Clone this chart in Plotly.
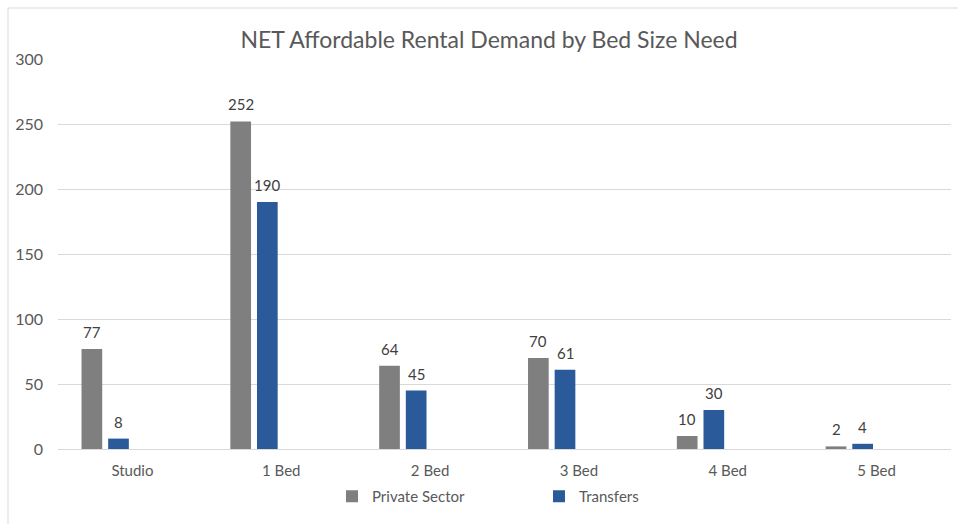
import plotly.graph_objects as go

categories = ["Studio", "1 Bed", "2 Bed", "3 Bed", "4 Bed", "5 Bed"]
private_sector = [77, 252, 64, 70, 10, 2]
transfers = [8, 190, 45, 61, 30, 4]
y_ticks = [0, 50, 100, 150, 200, 250, 300]

FONT = "Lato"
W, H = 958, 524
L, R, T, B = 58, 7, 59, 75
pw = W - L - R
ph = H - T - B

BAR_W = 0.139
OFFSETS = {"Private Sector": -0.342, "Transfers": -0.163}
COLORS = {"Private Sector": "#7F7F7F", "Transfers": "#2A5A9A"}
series = {"Private Sector": private_sector, "Transfers": transfers}

fig = go.Figure()
annotations = []
for name, vals in series.items():
    fig.add_trace(go.Bar(
        x=categories, y=vals, name=name,
        marker=dict(color=COLORS[name], line=dict(width=0)),
        width=BAR_W, offset=OFFSETS[name],
    ))
    for i, v in enumerate(vals):
        annotations.append(dict(
            x=i + OFFSETS[name] + BAR_W / 2, y=v, xref="x", yref="y",
            text=str(v), showarrow=False, yanchor="bottom", xanchor="center",
            yshift=6, font=dict(family=FONT, size=15, color="#404040"),
        ))

def px_x(p):
    return (p - L) / pw

def px_y(p):
    return 1 - (p - T) / ph

fig.update_layout(
    width=W, height=H,
    margin=dict(l=L, r=R, t=T, b=B),
    plot_bgcolor="white", paper_bgcolor="white",
    barmode="overlay",
    title=dict(text="NET Affordable Rental Demand by Bed Size Need",
               x=489 / W, xanchor="center", xref="container",
               y=1 - 40 / H, yanchor="middle", yref="container",
               font=dict(family=FONT, size=23, color="#595959")),
    xaxis=dict(showgrid=False, zeroline=False, showline=False, ticks="",
               tickfont=dict(family=FONT, size=15, color="#595959"),
               ticklabelstandoff=11, range=[-0.5, 5.5]),
    yaxis=dict(range=[0, 300], tickvals=y_ticks, showgrid=True,
               gridcolor="#D9D9D9", gridwidth=1, zeroline=True,
               zerolinecolor="#D9D9D9", zerolinewidth=1, showline=False,
               tickfont=dict(family=FONT, size=16, color="#595959"),
               ticklabelstandoff=14),
    legend=dict(orientation="h", x=px_x(332), xanchor="left",
                y=px_y(480), yanchor="top",
                font=dict(family=FONT, size=15, color="#595959"),
                entrywidth=162, itemwidth=30, traceorder="normal"),
    annotations=annotations,
    shapes=[
        dict(type="line", xref="paper", yref="paper",
             x0=px_x(8), x1=px_x(8), y0=px_y(8), y1=px_y(H + 5),
             line=dict(color="#D9D9D9", width=1)),
        dict(type="line", xref="paper", yref="paper",
             x0=px_x(8), x1=px_x(W + 5), y0=px_y(8), y1=px_y(8),
             line=dict(color="#D9D9D9", width=1)),
    ],
)

fig.write_html("out.html", config={"displayModeBar": False},
               post_script="document.body.style.margin='0';")
